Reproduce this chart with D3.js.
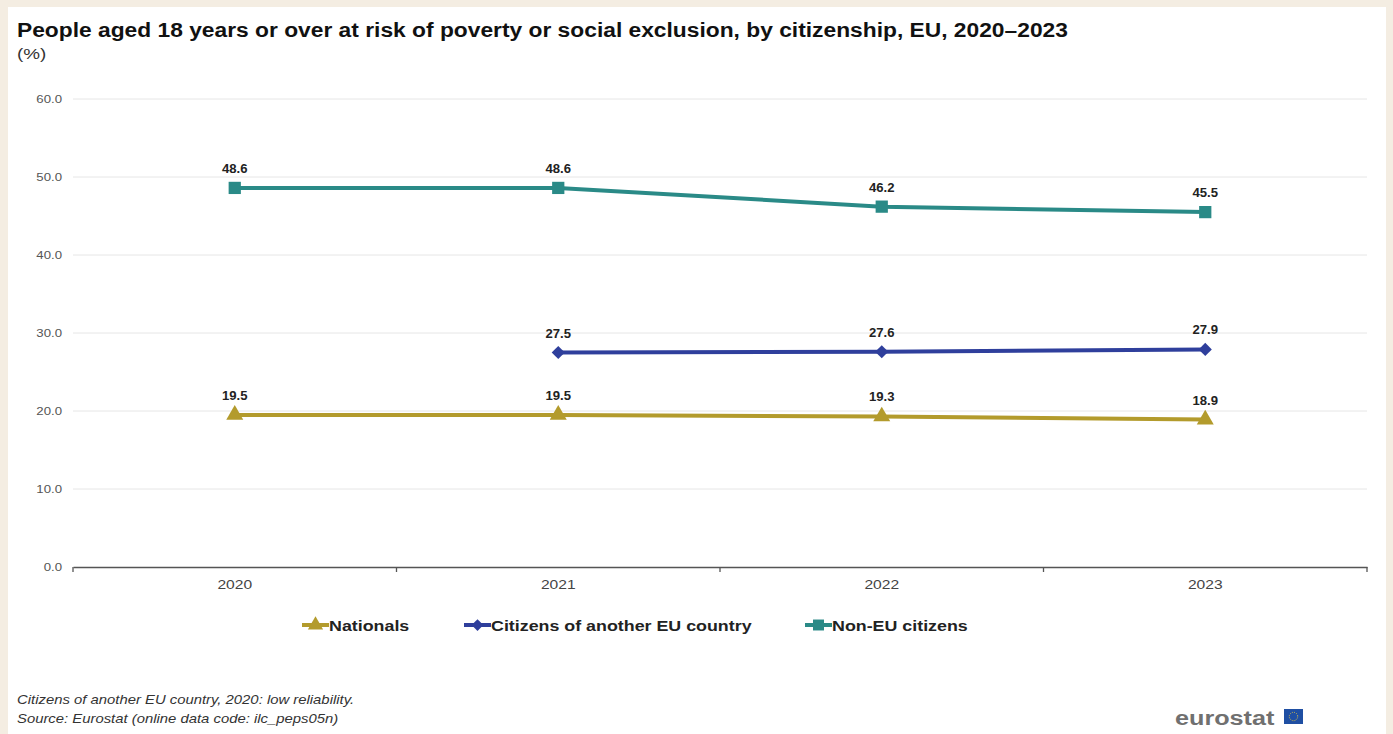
<!DOCTYPE html>
<html>
<head>
<meta charset="utf-8">
<script src="https://cdn.jsdelivr.net/npm/d3@7/dist/d3.min.js"></script>
<style>
  html, body { margin: 0; padding: 0; background: #f4ede2; }
  svg { display: block; font-family: "Liberation Sans", Arial, sans-serif; }
</style>
</head>
<body>
<div id="chart"></div>
<script>
// ── Data ────────────────────────────────────────────────────────────
var years      = ['2020', '2021', '2022', '2023'];
var nationals  = [19.5, 19.5, 19.3, 18.9];
var otherEU    = [null, 27.5, 27.6, 27.9];   // 2020: low reliability, not shown
var nonEU      = [48.6, 48.6, 46.2, 45.5];
var yTicks     = [0, 10, 20, 30, 40, 50, 60];

var series = [
    { label: 'Nationals',                      values: nationals, color: '#b39b2c', symbol: d3.symbolTriangle, size: 125 },
    { label: 'Citizens of another EU country', values: otherEU,   color: '#2f3f9c', symbol: d3.symbolDiamond2, size: 110 },
    { label: 'Non-EU citizens',                values: nonEU,     color: '#2a8a87', symbol: d3.symbolSquare,   size: 150 }
];

var width = 1393, height = 734;
var margin = { top: 99, right: 26, bottom: 167, left: 73 };

// the source chart's text is drawn a bit wider than its height suggests
function stretchX(sel, k) {
    sel.each(function () {
        var t = d3.select(this);
        var tx = +t.attr('x') || 0, ty = +t.attr('y') || 0;
        t.attr('x', 0).attr('y', 0)
         .attr('transform', 'translate(' + tx + ',' + ty + ') scale(' + k + ',1)');
    });
}

var svg = d3.select('#chart').append('svg')
    .attr('width', width).attr('height', height);

// white panel on beige frame
svg.append('rect')
    .attr('x', 8).attr('y', 7)
    .attr('width', 1378).attr('height', height - 7)
    .attr('fill', '#ffffff');

var x = d3.scaleBand().domain(years)
    .range([margin.left, width - margin.right]);
var y = d3.scaleLinear().domain([0, 60])
    .range([height - margin.bottom, margin.top]);

// gridlines
svg.append('g').selectAll('line')
    .data(yTicks.filter(function (t) { return t > 0; }))
    .join('line')
    .attr('x1', margin.left).attr('x2', width - margin.right)
    .attr('y1', function (d) { return y(d); }).attr('y2', function (d) { return y(d); })
    .attr('stroke', '#e6e6e6').attr('stroke-width', 1);

// y axis labels
var yAxis = svg.append('g')
    .attr('transform', 'translate(' + margin.left + ',0)')
    .call(d3.axisLeft(y).tickValues(yTicks).tickSize(0).tickPadding(11)
        .tickFormat(d3.format('.1f')));
yAxis.select('.domain').remove();
yAxis.selectAll('text').attr('fill', '#555').style('font-size', '11px')
    .attr('dy', '0.35em')
    .call(stretchX, 1.2);

// x axis
var xAxis = svg.append('g')
    .attr('transform', 'translate(0,' + y(0) + ')')
    .call(d3.axisBottom(x).tickSize(0).tickPadding(13));
xAxis.select('.domain').attr('stroke', '#555').attr('stroke-width', 1.3);
xAxis.selectAll('text').attr('fill', '#444').style('font-size', '12px')
    .attr('y', 13)
    .call(stretchX, 1.3);
// tick marks at band boundaries
xAxis.selectAll('line.bnd')
    .data(d3.range(years.length + 1))
    .join('line').attr('class', 'bnd')
    .attr('x1', function (i) { return margin.left + i * x.step(); })
    .attr('x2', function (i) { return margin.left + i * x.step(); })
    .attr('y1', 0).attr('y2', 5)
    .attr('stroke', '#555').attr('stroke-width', 1.3);

var cx = function (i) { return x(years[i]) + x.bandwidth() / 2; };

var line = d3.line()
    .defined(function (d) { return d != null; })
    .x(function (d, i) { return cx(i); })
    .y(function (d) { return y(d); });

series.forEach(function (s) {
    var g = svg.append('g');
    g.append('path')
        .datum(s.values)
        .attr('fill', 'none')
        .attr('stroke', s.color)
        .attr('stroke-width', 4)
        .attr('d', line);

    var pts = s.values.map(function (v, i) { return { v: v, i: i }; })
        .filter(function (p) { return p.v != null; });

    g.selectAll('path.mk').data(pts).join('path')
        .attr('class', 'mk')
        .attr('transform', function (p) { return 'translate(' + cx(p.i) + ',' + y(p.v) + ')'; })
        .attr('d', d3.symbol().type(s.symbol).size(s.size))
        .attr('fill', s.color);

    g.selectAll('text').data(pts).join('text')
        .attr('x', function (p) { return cx(p.i); })
        .attr('y', function (p) { return y(p.v) - 15; })
        .attr('text-anchor', 'middle')
        .attr('fill', '#222')
        .style('font-size', '12.5px').style('font-weight', 'bold')
        .text(function (p) { return d3.format('.1f')(p.v); })
        .call(stretchX, 1.05);
});

// title
svg.append('text')
    .attr('x', 17).attr('y', 37)
    .attr('fill', '#111')
    .style('font-size', '21px').style('font-weight', 'bold')
    .text('People aged 18 years or over at risk of poverty or social exclusion, by citizenship, EU, 2020\u20132023')
    .call(stretchX, 1.085);
svg.append('text')
    .attr('x', 17).attr('y', 59)
    .attr('fill', '#333')
    .style('font-size', '14.5px')
    .text('(%)')
    .call(stretchX, 1.3);

// legend
var legendX = [302, 464, 805];
var lg = svg.append('g').attr('transform', 'translate(0,625)');
series.forEach(function (s, i) {
    var it = lg.append('g').attr('transform', 'translate(' + legendX[i] + ',0)');
    it.append('line').attr('x1', 0).attr('x2', 27).attr('y1', 0).attr('y2', 0)
        .attr('stroke', s.color).attr('stroke-width', 4);
    it.append('path').attr('transform', 'translate(13.5,0)')
        .attr('d', d3.symbol().type(s.symbol).size(s.size * 0.8))
        .attr('fill', s.color);
    it.append('text').attr('x', 27).attr('y', 5.5)
        .attr('fill', '#222')
        .style('font-size', '15px').style('font-weight', 'bold')
        .text(s.label)
        .call(stretchX, 1.19);
});

// footnotes
var notes = ['Citizens of another EU country, 2020: low reliability.',
             'Source: Eurostat (online data code: ilc_peps05n)'];
svg.append('g').selectAll('text').data(notes).join('text')
    .attr('x', 17).attr('y', function (d, i) { return 704 + i * 19; })
    .attr('fill', '#333')
    .style('font-size', '12.5px').style('font-style', 'italic')
    .text(function (d) { return d; })
    .call(stretchX, 1.19);

// eurostat logo
svg.append('text')
    .attr('x', 1175).attr('y', 725)
    .attr('fill', '#707070')
    .style('font-size', '21px').style('font-weight', 'bold')
    .text('eurostat')
    .call(stretchX, 1.2);
svg.append('rect')
    .attr('x', 1284).attr('y', 709).attr('width', 19).attr('height', 15)
    .attr('fill', '#1f4fa3');
svg.append('circle')
    .attr('cx', 1293.5).attr('cy', 716.5).attr('r', 4.2)
    .attr('fill', 'none').attr('stroke', '#e8c740').attr('stroke-width', 0.9)
    .attr('stroke-dasharray', '1 1.2');
</script>
</body>
</html>
